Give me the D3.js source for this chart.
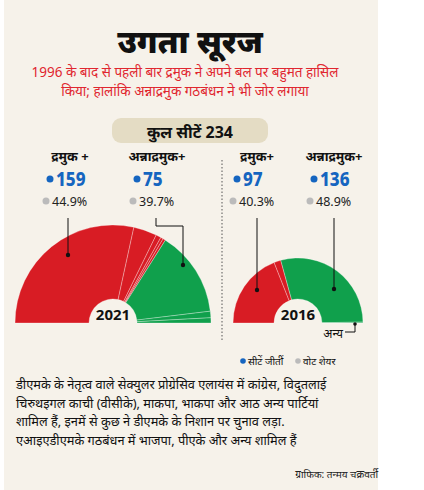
<!DOCTYPE html><html><head><meta charset="utf-8"><script src="https://cdn.jsdelivr.net/npm/d3@7"></script>
<style>body{margin:0;background:#fff}svg{font-family:"Noto Sans",sans-serif}</style></head><body><svg id="c" width="424" height="490"></svg>
<script>
const years=["2021","2016"];
const seats2021=[133,18,4,2,2,66,5,4];
const colors2021=["r","r","r","r","r","g","g","g"];
const seats2016=[89,8,136,1];
const colors2016=["r","r","g","g"];
const allianceLabels=["द्रमुक +","अन्नाद्रमुक+"];
const allianceLabels16=["द्रमुक+","अन्नाद्रमुक+"];
const seatsWon2021=[159,75], voteShare2021=["44.9%","39.7%"];
const seatsWon2016=[97,136], voteShare2016=["40.3%","48.9%"];
const col={r:"#d81c24",g:"#10a04c"};
const svg=d3.select("#c");
svg.append("rect").attr("x",4).attr("y",0).attr("width",374).attr("height",490).attr("fill","#f6f2ea");
svg.append("text").attr("x",190).attr("y",53).attr("text-anchor","middle").attr("font-size",32).attr("font-weight",900).attr("fill","#111").text("उगता सूरज");
const sub=["1996 के बाद से पहली बार द्रमुक ने अपने बल पर बहुमत हासिल","किया; हालांकि अन्नाद्रमुक गठबंधन ने भी जोर लगाया"];
sub.forEach((t,i)=>svg.append("text").attr("x",185).attr("y",77+i*19).attr("text-anchor","middle").attr("font-size",13.5).attr("fill","#e0262f").text(t));
svg.append("rect").attr("x",112).attr("y",118).attr("width",156).attr("height",25).attr("rx",9).attr("fill","#e4dcc4");
svg.append("text").attr("x",190).attr("y",138).attr("text-anchor","middle").attr("font-size",16).attr("font-weight",700).attr("fill","#111").text("कुल सीटें 234");
svg.append("line").attr("x1",222).attr("x2",222).attr("y1",160).attr("y2",340).attr("stroke","#555").attr("stroke-dasharray","1.5,2");
function semi(cx,cy,R,data,cols,year){
  const pie=d3.pie().sort(null).startAngle(-Math.PI/2).endAngle(Math.PI/2);
  const arc=d3.arc().innerRadius(24).outerRadius(R);
  const g=svg.append("g").attr("transform",`translate(${cx},${cy})`);
  g.selectAll("path").data(pie(data)).join("path").attr("d",arc).attr("fill",(d,i)=>col[cols[i]]).attr("stroke","rgba(255,255,255,0.5)").attr("stroke-width",0.6);
  g.append("text").attr("y",-3).attr("text-anchor","middle").attr("font-size",15).attr("font-weight",700).attr("fill","#111").text(year);
}
semi(113,323,98,seats2021,colors2021,"2021");
semi(298,323,65,seats2016,colors2016,"2016");
function lab(x,y,name,seats,vote){
  svg.append("text").attr("x",x).attr("y",y).attr("text-anchor","middle").attr("font-size",13).attr("font-weight",700).attr("fill","#111").text(name);
  svg.append("circle").attr("cx",x-20).attr("cy",y+18).attr("r",3.5).attr("fill","#1565c0");
  svg.append("text").attr("x",x-14).attr("y",y+25).attr("font-size",20).attr("font-weight",800).attr("fill","#1565c0").attr("transform",`translate(${x-14},0) scale(0.85,1) translate(${-(x-14)},0)`).text(seats);
  svg.append("circle").attr("cx",x-24).attr("cy",y+40).attr("r",3.5).attr("fill","#bbb");
  svg.append("text").attr("x",x-18).attr("y",y+45).attr("font-size",12.5).attr("fill","#222").text(vote);
}
lab(70,161,allianceLabels[0],seatsWon2021[0],voteShare2021[0]);
lab(157,161,allianceLabels[1],seatsWon2021[1],voteShare2021[1]);
lab(257,161,allianceLabels16[0],seatsWon2016[0],voteShare2016[0]);
lab(334,161,allianceLabels16[1],seatsWon2016[1],voteShare2016[1]);
const leaders=[[[68,218],[68,255]],[[156,218],[156,226],[183,226],[183,265]],[[257,218],[257,290]],[[334,218],[334,289]]];
leaders.forEach(p=>{svg.append("path").attr("d",d3.line()(p)).attr("fill","none").attr("stroke","#111").attr("stroke-width",1);
 const e=p[p.length-1];svg.append("circle").attr("cx",e[0]).attr("cy",e[1]).attr("r",2.2).attr("fill","#111");});
svg.append("path").attr("d",d3.line()([[355,323],[355,332],[345,332]])).attr("fill","none").attr("stroke","#111");
svg.append("circle").attr("cx",355).attr("cy",324).attr("r",1.8).attr("fill","#111");
svg.append("text").attr("x",343).attr("y",338).attr("text-anchor","end").attr("font-size",12).attr("fill","#111").text("अन्य");
svg.append("circle").attr("cx",243).attr("cy",361).attr("r",2.8).attr("fill","#1565c0");
svg.append("text").attr("x",248).attr("y",365).attr("font-size",10).attr("fill","#111").text("सीटें जीतीं");
svg.append("circle").attr("cx",298).attr("cy",361).attr("r",2.8).attr("fill","#bbb");
svg.append("text").attr("x",303).attr("y",365).attr("font-size",10).attr("fill","#111").text("वोट शेयर");
const para=["डीएमके के नेतृत्व वाले सेक्युलर प्रोग्रेसिव एलायंस में कांग्रेस, विदुतलाई","चिरुथइगल काची (वीसीके), माकपा, भाकपा और आठ अन्य पार्टियां","शामिल हैं, इनमें से कुछ ने डीएमके के निशान पर चुनाव लड़ा.","एआइएडीएमके गठबंधन में भाजपा, पीएके और अन्य शामिल हैं"];
para.forEach((t,i)=>svg.append("text").attr("x",16).attr("y",389+i*18.5).attr("font-size",12.8).attr("fill","#111").text(t));
svg.append("text").attr("x",378).attr("y",478).attr("text-anchor","end").attr("font-size",10).attr("fill","#222").text("ग्राफिक: तन्मय चक्रवर्ती");
</script></body></html>
